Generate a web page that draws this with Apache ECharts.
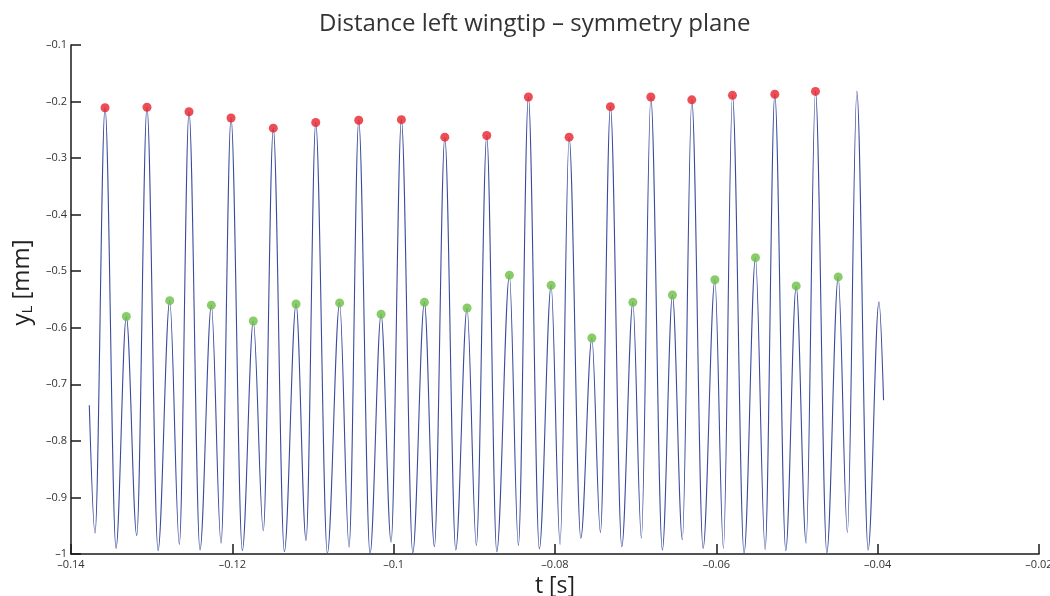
<!DOCTYPE html>
<html>
<head>
<meta charset="utf-8">
<title>Distance left wingtip</title>
<script src="https://cdn.jsdelivr.net/npm/echarts@6/dist/echarts.min.js"></script>
<style>
  html, body { margin: 0; padding: 0; background: #fff; }
  #main { width: 1050px; height: 596px; }
</style>
</head>
<body>
<div id="main"></div>
<script>
// turning points of the signal (start, troughs, peaks, end)
var lineT = [
  -0.13773, -0.13702, -0.13578, -0.13442, -0.13314, -0.13185, -0.13058, -0.12921, -0.12776, -0.12657,
  -0.12537, -0.12401, -0.12260, -0.12140, -0.12016, -0.11876, -0.11740, -0.11616, -0.11492, -0.11355,
  -0.11210, -0.11086, -0.10966, -0.10822, -0.10670, -0.10553, -0.10433, -0.10293, -0.10156, -0.10032,
  -0.09904, -0.09763, -0.09619, -0.09495, -0.09366, -0.09230, -0.09090, -0.08975, -0.08846, -0.08722,
  -0.08565, -0.08454, -0.08330, -0.08194, -0.08048, -0.07937, -0.07825, -0.07680, -0.07543, -0.07437,
  -0.07313, -0.07172, -0.07035, -0.06929, -0.06812, -0.06669, -0.06544, -0.06421, -0.06304, -0.06164,
  -0.06018, -0.05912, -0.05800, -0.05656, -0.05515, -0.05395, -0.05275, -0.05139, -0.05010, -0.04887,
  -0.04771, -0.04630, -0.04489, -0.04375, -0.04258, -0.04118, -0.03984, -0.03927
]
var lineY = [
  -0.737, -0.963, -0.211, -0.990, -0.580, -0.967, -0.210, -0.994, -0.552, -0.983,
  -0.218, -0.993, -0.560, -0.981, -0.229, -0.994, -0.588, -0.959, -0.247, -0.996,
  -0.558, -0.976, -0.237, -0.999, -0.556, -0.988, -0.233, -1.000, -0.576, -0.979,
  -0.232, -0.998, -0.555, -0.987, -0.263, -0.993, -0.565, -0.985, -0.260, -0.996,
  -0.507, -0.985, -0.192, -0.991, -0.525, -0.983, -0.263, -0.972, -0.618, -0.962,
  -0.209, -0.987, -0.555, -0.972, -0.192, -0.993, -0.542, -0.975, -0.197, -0.990,
  -0.515, -0.990, -0.189, -0.999, -0.476, -0.992, -0.187, -0.994, -0.526, -0.981,
  -0.182, -0.998, -0.510, -0.962, -0.182, -0.993, -0.554, -0.728
]

// marked large peaks (red)
var maxT = [-0.13578, -0.13058, -0.12537, -0.12016, -0.11492, -0.10966, -0.10433, -0.09904, -0.09366,
            -0.08846, -0.08330, -0.07825, -0.07313, -0.06812, -0.06304, -0.05800, -0.05275, -0.04771]
var maxY = [-0.211, -0.210, -0.218, -0.229, -0.247, -0.237, -0.233, -0.232, -0.263,
            -0.260, -0.192, -0.263, -0.209, -0.192, -0.197, -0.189, -0.187, -0.182]

// marked small peaks (green)
var minT = [-0.13314, -0.12776, -0.12260, -0.11740, -0.11210, -0.10670, -0.10156, -0.09619, -0.09090,
            -0.08565, -0.08048, -0.07543, -0.07035, -0.06544, -0.06018, -0.05515, -0.05010, -0.04489]
var minY = [-0.580, -0.552, -0.560, -0.588, -0.558, -0.556, -0.576, -0.555, -0.565,
            -0.507, -0.525, -0.618, -0.555, -0.542, -0.515, -0.476, -0.526, -0.510]

function zip(a, b) {
  var out = []
  for (var i = 0; i < a.length; i++) {
    out.push([a[i], b[i]])
  }
  return out
}

// matlab style labels: en dash as minus, no trailing zeros
function tickText(v) {
  var s = String(parseFloat(v.toFixed(3)))
  return s.replace('-', '\u2013')
}

var font = 'Open Sans, Noto Sans, sans-serif'
var myChart = echarts.init(document.getElementById('main'))

myChart.setOption({
  backgroundColor: '#fff',
  animation: false,
  title: {
    text: 'Distance left wingtip \u2013 symmetry plane',
    left: 314,
    top: 7,
    textStyle: { fontFamily: font, fontSize: 24, fontWeight: 'normal', color: '#333' }
  },
  grid: { left: 71, right: 11, top: 45, bottom: 42, outerBoundsMode: 'none' },
  xAxis: {
    type: 'value',
    min: -0.14,
    max: -0.02,
    interval: 0.02,
    name: 't [s]',
    nameLocation: 'middle',
    nameGap: 16,
    nameTextStyle: { fontFamily: font, fontSize: 23, color: '#222' },
    axisLine: { lineStyle: { color: '#1a1a1a', width: 1.5 } },
    axisTick: { inside: true, length: 10, lineStyle: { color: '#1a1a1a', width: 1.5 } },
    axisLabel: { formatter: tickText, fontFamily: font, fontSize: 11, color: '#333', margin: 5 },
    splitLine: { show: false }
  },
  yAxis: {
    type: 'value',
    min: -1,
    max: -0.1,
    interval: 0.1,
    name: '{a|y}{b|L}{a| [mm]}',
    nameLocation: 'middle',
    nameGap: 36,
    nameRotate: 90,
    nameTextStyle: {
      padding: [0, 0, 0, 34],
      rich: {
        a: { fontFamily: font, fontSize: 24, color: '#222' },
        b: { fontFamily: font, fontSize: 15, color: '#222', padding: [10, 0, 0, 0] }
      }
    },
    axisLine: { lineStyle: { color: '#1a1a1a', width: 1.5 } },
    axisTick: { inside: true, length: 10, lineStyle: { color: '#1a1a1a', width: 1.5 } },
    axisLabel: { formatter: tickText, fontFamily: font, fontSize: 11, color: '#333', margin: 4 },
    splitLine: { show: false }
  },
  series: [
    {
      name: 'yL',
      type: 'line',
      data: zip(lineT, lineY),
      showSymbol: false,
      smooth: 0.35,
      smoothMonotone: 'x',
      lineStyle: { color: '#3a4b9c', width: 1.1 },
      z: 2
    },
    {
      name: 'max',
      type: 'scatter',
      data: zip(maxT, maxY),
      symbolSize: 9,
      itemStyle: { color: '#e8202a' },
      z: 3
    },
    {
      name: 'min',
      type: 'scatter',
      data: zip(minT, minY),
      symbolSize: 9,
      itemStyle: { color: '#6cbf44' },
      z: 3
    }
  ]
})
</script>
</body>
</html>
